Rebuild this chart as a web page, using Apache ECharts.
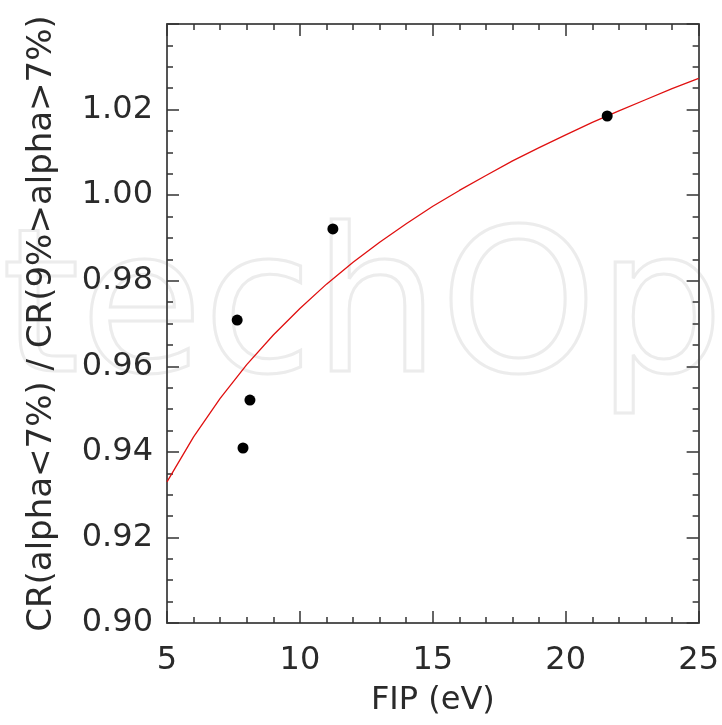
<!DOCTYPE html>
<html>
<head>
<meta charset="utf-8">
<script src="https://cdn.jsdelivr.net/npm/echarts@6/dist/echarts.min.js"></script>
<style>
  html, body { margin: 0; padding: 0; background: #fff; }
  #chart { width: 722px; height: 725px; }
</style>
</head>
<body>
<div id="chart"></div>
<script>
// measured points
var fipValues = [7.64, 7.86, 8.12, 11.24, 21.56];
var crRatio = [0.9708, 0.9409, 0.9521, 0.9921, 1.0185];

// red fit curve
var curveFip = [5, 6, 7, 8, 9, 10, 11, 12, 13, 14, 15, 16, 17, 18, 19, 20, 21, 22, 23, 24, 25];
var curveRatio = [0.9330, 0.9435, 0.9525, 0.9604, 0.9673, 0.9735, 0.9792, 0.9843, 0.9890, 0.9933, 0.9974,
  1.0011, 1.0046, 1.0080, 1.0111, 1.0141, 1.0170, 1.0197, 1.0223, 1.0249, 1.0273];

var fontName = 'DejaVu Sans';
var textColor = '#2a2a2a';

var myChart = echarts.init(document.getElementById('chart'));

function axisBase(pos) {
  return {
    type: 'value',
    position: pos,
    axisLine: { show: true, onZero: false, lineStyle: { color: '#555', width: 2 } },
    axisTick: { show: true, inside: true, length: 12, lineStyle: { color: '#333', width: 1.5 } },
    minorTick: { show: true, length: 6, lineStyle: { color: '#333', width: 1.5 } },
    splitLine: { show: false },
    minorSplitLine: { show: false }
  };
}

var xBottom = Object.assign(axisBase('bottom'), {
  min: 5, max: 25, interval: 5,
  name: 'FIP (eV)', nameLocation: 'middle', nameGap: 62,
  nameTextStyle: { fontFamily: fontName, fontSize: 32, color: textColor },
  axisLabel: { margin: 22, fontFamily: fontName, fontSize: 32, color: textColor }
});
xBottom.minorTick.splitNumber = 5;
var xTop = Object.assign(axisBase('top'), { min: 5, max: 25, interval: 5, axisLabel: { show: false } });
xTop.minorTick.splitNumber = 5;

var yLeft = Object.assign(axisBase('left'), {
  min: 0.90, max: 1.04, interval: 0.02,
  name: 'CR(alpha<7%) / CR(9%>alpha>7%)', nameLocation: 'middle', nameGap: 108,
  nameTextStyle: { fontFamily: fontName, fontSize: 34, color: textColor },
  axisLabel: {
    margin: 14, fontFamily: fontName, fontSize: 32, color: textColor, showMaxLabel: false,
    formatter: function (v) { return v > 1.035 ? '' : v.toFixed(2); }
  }
});
yLeft.minorTick.splitNumber = 4;
var yRight = Object.assign(axisBase('right'), { min: 0.90, max: 1.04, interval: 0.02, axisLabel: { show: false } });
yRight.minorTick.splitNumber = 4;

var option = {
  animation: false,
  backgroundColor: '#fff',
  grid: { left: 167, right: 22, top: 24, bottom: 102 },
  graphic: [{
    type: 'text', left: 0, top: 218, z: -10, silent: true,
    style: {
      text: 'techOpen', fontFamily: fontName, fontSize: 200,
      fill: 'rgba(0,0,0,0)', stroke: '#ececec', lineWidth: 3
    }
  }],
  xAxis: [xBottom, xTop],
  yAxis: [yLeft, yRight],
  series: [
    {
      type: 'line',
      data: curveFip.map(function (x, i) { return [x, curveRatio[i]]; }),
      showSymbol: false,
      lineStyle: { color: '#e01010', width: 1.3 },
      z: 2
    },
    {
      type: 'scatter',
      data: fipValues.map(function (x, i) { return [x, crRatio[i]]; }),
      symbol: 'circle', symbolSize: 11,
      itemStyle: { color: '#000', opacity: 1 },
      z: 3
    }
  ]
};
myChart.setOption(option);
</script>
</body>
</html>
